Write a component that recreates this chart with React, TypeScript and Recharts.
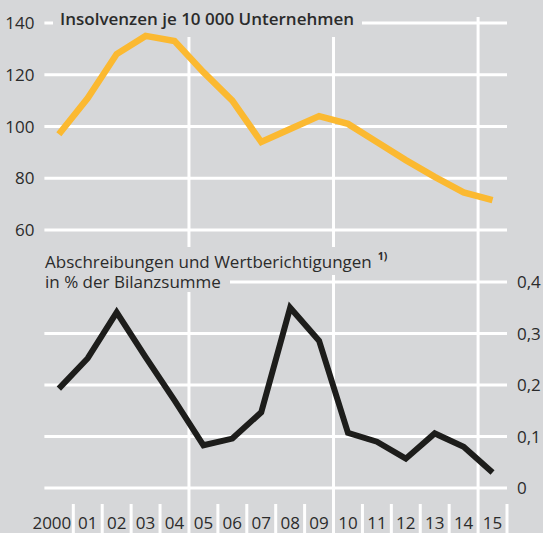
import { LineChart, Line, XAxis, YAxis, ReferenceLine } from 'recharts';

const years = [2000, 2001, 2002, 2003, 2004, 2005, 2006, 2007, 2008, 2009, 2010, 2011, 2012, 2013, 2014, 2015];
const yearLabels = ['2000', '01', '02', '03', '04', '05', '06', '07', '08', '09', '10', '11', '12', '13', '14', '15'];
const insolvenzen = [97, 111, 128, 135, 133, 121, 110, 94, 99, 104, 101, 94, 87, 80.5, 74.5, 71.5];
const abschreibungen = [0.193, 0.252, 0.341, 0.254, 0.17, 0.083, 0.096, 0.147, 0.35, 0.286, 0.107, 0.09, 0.057, 0.106, 0.08, 0.03];
const topTicks = [60, 80, 100, 120, 140];
const bottomTicks = [0, 0.1, 0.2, 0.3, 0.4];
const majorBreaks = [2004.5, 2009.5, 2014.5];

const BG = '#d6d7d9';
const TEXT = '#2b2b2b';
const FONT = '"Open Sans", "Noto Sans", sans-serif';

// two value scales share one plot area, so each domain is stretched to place its panel
const TOP_DOMAIN: [number, number] = [-39.7, 142.3];
const BOTTOM_DOMAIN: [number, number] = [0, 0.9146];
const RULE_BELOW_TITLE = 0.8757;

const data = years.map((year, i) => ({ year, insolvenzen: insolvenzen[i], abschreibungen: abschreibungen[i] }));

function YearTick(props: any) {
  const x = Number(props.x);
  const y = Number(props.y);
  const w = Number(props.width);
  const half = (Number.isFinite(w) && w > 0 ? w / years.length : 28.91) / 2;
  const v = Number(props.payload.value);
  const idx = years.indexOf(v);
  if (idx < 0) return null;
  const first = idx === 0;
  const major = majorBreaks.includes(v + 0.5);
  const bx = x + half;
  const top = major ? y : y + 16;
  return (
    <g>
      <rect x={bx - 1.5} y={top} width={3} height={y + 46 - top} fill="#fefefe" stroke="none" />
      <text
        x={first ? bx - 2 : x}
        y={y + 41}
        textAnchor={first ? 'end' : 'middle'}
        fontSize={17}
        fill={TEXT}
        fontFamily={FONT}
      >
        {yearLabels[idx]}
      </text>
    </g>
  );
}

const fmtComma = (v: number) => (v === 0 ? '0' : v.toFixed(1).replace('.', ','));

export default function App() {
  return (
    <div style={{ position: 'absolute', left: 0, top: 0, width: 543, height: 533, background: BG, overflow: 'hidden' }}>
      <LineChart width={543} height={533} data={data} margin={{ top: 17, right: 0, bottom: 0, left: 0 }}>
        <XAxis
          dataKey="year"
          type="number"
          domain={[1999.5, 2015.5]}
          ticks={years}
          interval={0}
          tick={<YearTick />}
          tickLine={false}
          axisLine={false}
          tickSize={0}
          tickMargin={0}
          height={45}
        />
        <YAxis
          yAxisId="top"
          orientation="left"
          domain={TOP_DOMAIN}
          ticks={topTicks}
          width={44.4}
          tickLine={false}
          axisLine={false}
          tickSize={0}
          tickMargin={10}
          tick={{ fontSize: 17, fill: TEXT, fontFamily: FONT }}
          allowDataOverflow
        />
        <YAxis
          yAxisId="bottom"
          orientation="right"
          domain={BOTTOM_DOMAIN}
          ticks={bottomTicks}
          width={36}
          tickLine={false}
          axisLine={false}
          tickSize={0}
          tickMargin={10}
          tickFormatter={fmtComma}
          tick={{ fontSize: 17, fill: TEXT, fontFamily: FONT, textAnchor: 'start' }}
          allowDataOverflow
        />
        {topTicks.map((t) => (
          <ReferenceLine key={`t${t}`} yAxisId="top" y={t} stroke="#fff" strokeWidth={3} />
        ))}
        {bottomTicks.map((t) => (
          <ReferenceLine key={`b${t}`} yAxisId="bottom" y={t} stroke="#fff" strokeWidth={3} />
        ))}
        {majorBreaks.map((b, i) => (
          <ReferenceLine
            key={`v${b}`}
            yAxisId="bottom"
            segment={[
              { x: b, y: i < 2 ? RULE_BELOW_TITLE : BOTTOM_DOMAIN[1] },
              { x: b, y: BOTTOM_DOMAIN[0] },
            ]}
            stroke="#fff"
            strokeWidth={3}
          />
        ))}
        <Line
          yAxisId="top"
          dataKey="insolvenzen"
          type="linear"
          stroke="#fbb931"
          strokeWidth={6.5}
          strokeLinejoin="miter"
          dot={false}
          isAnimationActive={false}
        />
        <Line
          yAxisId="bottom"
          dataKey="abschreibungen"
          type="linear"
          stroke="#1d1d1b"
          strokeWidth={6}
          strokeLinejoin="miter"
          dot={false}
          isAnimationActive={false}
        />
      </LineChart>
      <svg width={543} height={300} style={{ position: 'absolute', left: 0, top: 0, pointerEvents: 'none' }}>
        <rect x={53} y={4} width={309} height={27} fill={BG} />
        <text x={60} y={24.5} fontSize={17} fontWeight={600} fill={TEXT} fontFamily={FONT}>
          Insolvenzen je 10 000 Unternehmen
        </text>
        <rect x={43} y={247} width={352} height={28} fill={BG} />
        <rect x={43} y={274} width={187} height={18} fill={BG} />
        <text x={45} y={267.5} fontSize={17} fill={TEXT} fontFamily={FONT}>
          Abschreibungen und Wertberichtigungen
          <tspan dx={6} dy={-8} fontSize={10.5} fontWeight={700}>
            1)
          </tspan>
        </text>
        <text x={45} y={288} fontSize={17} fill={TEXT} fontFamily={FONT}>
          in % der Bilanzsumme
        </text>
      </svg>
    </div>
  );
}
